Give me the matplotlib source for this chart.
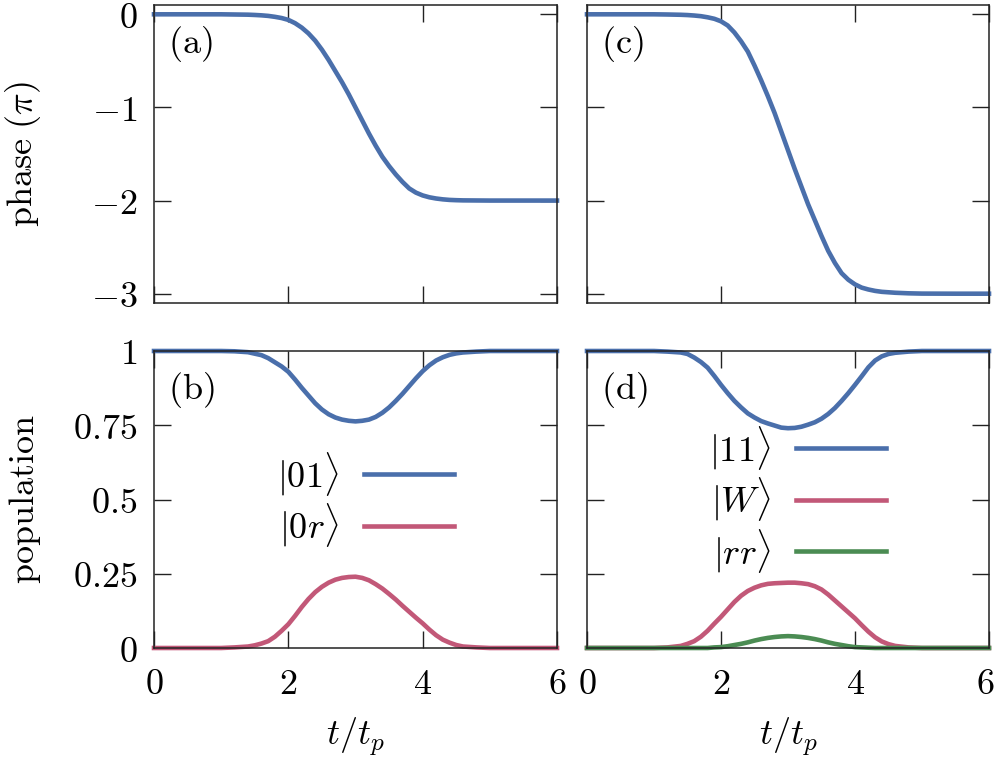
import numpy as np
import matplotlib
matplotlib.use('Agg')
import matplotlib.pyplot as plt
import matplotlib.transforms as mtransforms

plt.rcParams['mathtext.fontset'] = 'cm'
plt.rcParams['font.size'] = 26

# time grid t/t_p (denser where the curves change)
t = [0, 0.5, 1.0, 1.2, 1.4,
     1.5, 1.6, 1.7, 1.8, 1.9, 2.0, 2.1, 2.2, 2.3, 2.4,
     2.5, 2.6, 2.7, 2.8, 2.9, 3.0, 3.1, 3.2, 3.3, 3.4,
     3.5, 3.6, 3.7, 3.8, 3.9, 4.0, 4.1, 4.2, 4.3, 4.4, 4.5,
     4.6, 4.8, 5.0, 5.5, 6.0]

# (a) phase of |01> in units of pi
phase_01 = [0, 0, 0, -0.002, -0.004,
            -0.007, -0.011, -0.017, -0.027, -0.04, -0.06, -0.095, -0.143, -0.205, -0.283,
            -0.38, -0.49, -0.61, -0.73, -0.86, -1.0, -1.14, -1.28, -1.41, -1.53,
            -1.63, -1.72, -1.80, -1.87, -1.915, -1.945, -1.965, -1.978, -1.987, -1.993, -1.996,
            -1.998, -1.999, -2, -2, -2]
# (c) phase of |11> in units of pi
phase_11 = [0, 0, 0, -0.002, -0.005,
            -0.008, -0.013, -0.02, -0.032, -0.048, -0.075, -0.12, -0.195, -0.29, -0.40,
            -0.55, -0.71, -0.88, -1.06, -1.26, -1.46, -1.66, -1.85, -2.04, -2.21,
            -2.38, -2.54, -2.67, -2.78, -2.85, -2.90, -2.935, -2.955, -2.97, -2.98, -2.985,
            -2.99, -2.996, -2.999, -3, -3]

# (b) populations
pop_01 = [1, 1, 1, 0.999, 0.996,
          0.991, 0.986, 0.976, 0.962, 0.948, 0.93, 0.904, 0.876, 0.85, 0.824,
          0.803, 0.787, 0.776, 0.769, 0.765, 0.763, 0.765, 0.769, 0.778, 0.792,
          0.81, 0.832, 0.856, 0.882, 0.908, 0.932, 0.952, 0.968, 0.979, 0.987, 0.992,
          0.995, 0.998, 1, 1, 1]
pop_0r = [0, 0, 0, 0.002, 0.005,
          0.009, 0.015, 0.023, 0.038, 0.058, 0.08, 0.108, 0.138, 0.165, 0.188,
          0.206, 0.22, 0.23, 0.236, 0.239, 0.24, 0.236, 0.228, 0.215, 0.2,
          0.182, 0.163, 0.142, 0.122, 0.102, 0.083, 0.062, 0.043, 0.028, 0.018, 0.01,
          0.005, 0.002, 0, 0, 0]

# (d) populations
pop_11 = [1, 1, 1, 0.998, 0.995,
          0.99, 0.978, 0.963, 0.944, 0.916, 0.886, 0.858, 0.832, 0.81, 0.79,
          0.776, 0.764, 0.756, 0.749, 0.742, 0.74, 0.741, 0.745, 0.752, 0.76,
          0.772, 0.788, 0.808, 0.832, 0.858, 0.886, 0.915, 0.945, 0.968, 0.982, 0.99,
          0.994, 0.998, 1, 1, 1]
pop_W = [0, 0, 0, 0.002, 0.007,
         0.014, 0.023, 0.038, 0.058, 0.082, 0.105, 0.13, 0.155, 0.176, 0.192,
         0.203, 0.211, 0.216, 0.218, 0.219, 0.22, 0.22, 0.218, 0.215, 0.208,
         0.197, 0.18, 0.16, 0.14, 0.12, 0.1, 0.077, 0.055, 0.036, 0.022, 0.013,
         0.007, 0.002, 0, 0, 0]
pop_rr = [0, 0, 0, 0, 0,
          0, 0, 0, 0, 0.002, 0.003, 0.006, 0.01, 0.014, 0.019,
          0.025, 0.03, 0.034, 0.037, 0.039, 0.04, 0.039, 0.037, 0.034, 0.03,
          0.025, 0.019, 0.014, 0.01, 0.006, 0.003, 0.002, 0.001, 0, 0, 0,
          0, 0, 0, 0, 0]

blue = '#4a6fab'
pink = '#c25878'
green = '#4b8c53'
lw = 3.3

fig = plt.figure(figsize=(9.96, 7.57), dpi=100)
W, H = 996, 757

def make_ax(x0, y0, x1, y1):
    return fig.add_axes([x0 / W, 1 - y1 / H, (x1 - x0) / W, (y1 - y0) / H])

ax_a = make_ax(154, 5, 557, 303)
ax_c = make_ax(587, 5, 989, 303)
ax_b = make_ax(154, 351, 557, 648)
ax_d = make_ax(587, 351, 989, 648)

for ax in (ax_a, ax_b, ax_c, ax_d):
    ax.set_xlim(0, 6)
    ax.set_xticks([0, 2, 4, 6])
    ax.tick_params(direction='in', length=12, width=1, top=True, right=True,
                   color='#222222')
    ax.tick_params(axis='x', pad=14)
    ax.tick_params(axis='y', pad=12)
    for s in ax.spines.values():
        s.set_linewidth(1.1)
        s.set_color('#222222')

for ax in (ax_a, ax_c):
    ax.set_ylim(-3.1, 0.1)
    ax.set_yticks([0, -1, -2, -3])
    ax.set_xticklabels([])
for ax in (ax_b, ax_d):
    ax.set_ylim(0, 1)
    ax.set_yticks([0, 0.25, 0.5, 0.75, 1])
    ax.set_xticklabels([r'$0$', r'$2$', r'$4$', r'$6$'])
    ax.set_xlabel(r'$t/t_p$', labelpad=10)

# keep the last "6" inside the picture
last = ax_d.get_xticklabels()[-1]
last.set_transform(last.get_transform() +
                   mtransforms.ScaledTranslation(-4 / 100, 0, fig.dpi_scale_trans))

ax_a.set_yticklabels([r'$0$', r'$-1$', r'$-2$', r'$-3$'])
ax_b.set_yticklabels([r'$0$', r'$0.25$', r'$0.5$', r'$0.75$', r'$1$'])
ax_c.set_yticklabels([])
ax_d.set_yticklabels([])

ax_a.set_ylabel(r'$\mathrm{phase}\ (\pi)$')
ax_b.set_ylabel(r'$\mathrm{population}$')
ax_a.yaxis.set_label_coords(-0.275, 0.5)
ax_b.yaxis.set_label_coords(-0.275, 0.5)

ax_a.plot(t, phase_01, color=blue, lw=lw, clip_on=False)
ax_c.plot(t, phase_11, color=blue, lw=lw, clip_on=False)

ax_b.plot(t, pop_01, color=blue, lw=lw, clip_on=False, label=r'$|01\rangle$')
ax_b.plot(t, pop_0r, color=pink, lw=lw, clip_on=False, label=r'$|0r\rangle$')

ax_d.plot(t, pop_11, color=blue, lw=lw, clip_on=False, label=r'$|11\rangle$')
ax_d.plot(t, pop_W, color=pink, lw=lw, clip_on=False, label=r'$|W\rangle$')
ax_d.plot(t, pop_rr, color=green, lw=lw, clip_on=False, label=r'$|rr\rangle$')

for ax, lab in zip((ax_a, ax_b, ax_c, ax_d), 'abcd'):
    ax.text(0.035, 0.84, r'$\mathrm{(%s)}$' % lab, transform=ax.transAxes,
            va='baseline')

for ax in (ax_b, ax_d):
    ax.legend(loc='center right', bbox_to_anchor=(0.745, 0.5), frameon=False,
              markerfirst=False, handlelength=2.5, handletextpad=0.7,
              labelspacing=0.1, borderpad=0, borderaxespad=0)

fig.savefig('out.png', dpi=100)
